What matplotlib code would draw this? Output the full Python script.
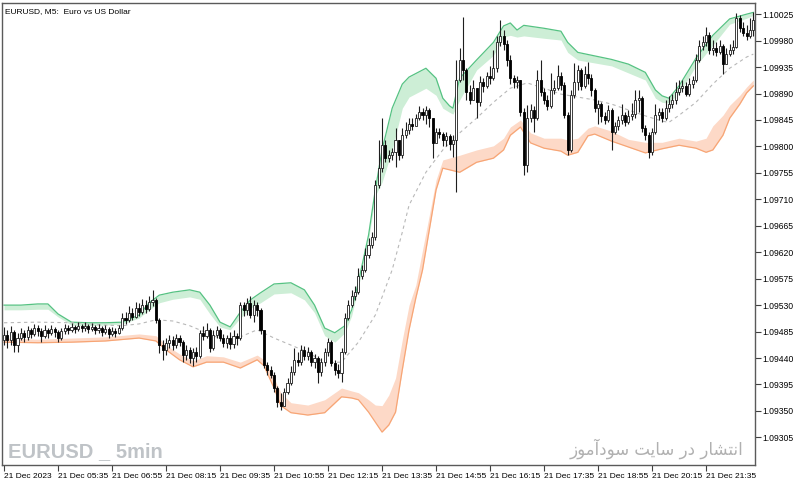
import matplotlib
matplotlib.use("Agg")
import matplotlib.pyplot as plt
import numpy as np

# EURUSD M5, 21 Dec 2023, bougies de 04:15 a 22:45
first_open = 1.09471
closes = [
    1.09479, 1.09471, 1.09484, 1.09462, 1.09474, 1.09483, 1.09476, 1.09488, 1.09481, 1.09491,
    1.09486, 1.09478, 1.09488, 1.09483, 1.09490, 1.09484, 1.09474, 1.09486, 1.09491, 1.09488,
    1.09493, 1.09490, 1.09495, 1.09491, 1.09495, 1.09490, 1.09493, 1.09488, 1.09491, 1.09484,
    1.09490, 1.09481, 1.09486, 1.09483, 1.09491, 1.09508, 1.09505, 1.09517, 1.09510, 1.09525,
    1.09518, 1.09530, 1.09523, 1.09535, 1.09539, 1.09505, 1.09462, 1.09454, 1.09466, 1.09471,
    1.09462, 1.09474, 1.09467, 1.09445, 1.09454, 1.09440, 1.09450, 1.09444, 1.09483, 1.09478,
    1.09488, 1.09457, 1.09479, 1.09488, 1.09474, 1.09466, 1.09474, 1.09464, 1.09478, 1.09474,
    1.09530, 1.09522, 1.09534, 1.09513, 1.09530, 1.09522, 1.09488, 1.09428, 1.09420, 1.09411,
    1.09389, 1.09365, 1.09359, 1.09382, 1.09398, 1.09416, 1.09437, 1.09433, 1.09454, 1.09444,
    1.09450, 1.09433, 1.09440, 1.09416, 1.09433, 1.09450, 1.09467, 1.09432, 1.09420, 1.09415,
    1.09450, 1.09508, 1.09530, 1.09546, 1.09552, 1.09580, 1.09590, 1.09615, 1.09632, 1.09646,
    1.09734, 1.09763, 1.09802, 1.09780, 1.09785, 1.09790, 1.09811, 1.09785, 1.09819, 1.09828,
    1.09838, 1.09835, 1.09848, 1.09858, 1.09853, 1.09862, 1.09848, 1.09806, 1.09824, 1.09821,
    1.09811, 1.09818, 1.09804, 1.09811, 1.09913, 1.09947, 1.09930, 1.09892, 1.09879, 1.09899,
    1.09875, 1.09909, 1.09903, 1.09920, 1.09916, 1.09933, 1.09977, 1.09988, 1.09974, 1.09947,
    1.09916, 1.09909, 1.09913, 1.09858, 1.09768, 1.09848, 1.09862, 1.09848, 1.09913, 1.09892,
    1.09879, 1.09869, 1.09896, 1.09899, 1.09920, 1.09904, 1.09853, 1.09794, 1.09887, 1.09909,
    1.09930, 1.09903, 1.09923, 1.09916, 1.09896, 1.09865, 1.09872, 1.09852, 1.09845, 1.09862,
    1.09824, 1.09835, 1.09845, 1.09853, 1.09841, 1.09852, 1.09855, 1.09879, 1.09882, 1.09831,
    1.09819, 1.09790, 1.09824, 1.09853, 1.09858, 1.09848, 1.09865, 1.09872, 1.09879, 1.09892,
    1.09899, 1.09903, 1.09890, 1.09906, 1.09913, 1.09947, 1.09971, 1.09977, 1.09989, 1.09964,
    1.09967, 1.09960, 1.09971, 1.09940, 1.09957, 1.09964, 1.09969, 1.10018, 1.10001, 1.09993,
    1.09988, 1.09998, 1.10015]
highs = [
    1.09493, 1.09488, 1.09495, 1.09488, 1.09483, 1.09491, 1.09488, 1.09495, 1.09491, 1.09498,
    1.09496, 1.09491, 1.09496, 1.09491, 1.09496, 1.09493, 1.09488, 1.09491, 1.09498, 1.09496,
    1.09500, 1.09496, 1.09501, 1.09498, 1.09501, 1.09498, 1.09500, 1.09496, 1.09498, 1.09495,
    1.09496, 1.09493, 1.09493, 1.09491, 1.09496, 1.09517, 1.09518, 1.09529, 1.09525, 1.09535,
    1.09534, 1.09541, 1.09539, 1.09546, 1.09556, 1.09542, 1.09508, 1.09471, 1.09474, 1.09479,
    1.09478, 1.09481, 1.09479, 1.09471, 1.09462, 1.09459, 1.09457, 1.09459, 1.09488, 1.09495,
    1.09500, 1.09491, 1.09488, 1.09495, 1.09491, 1.09481, 1.09479, 1.09484, 1.09488, 1.09483,
    1.09535, 1.09535, 1.09542, 1.09546, 1.09539, 1.09535, 1.09525, 1.09488, 1.09433, 1.09427,
    1.09416, 1.09393, 1.09380, 1.09389, 1.09406, 1.09427, 1.09457, 1.09450, 1.09462, 1.09461,
    1.09459, 1.09454, 1.09447, 1.09444, 1.09440, 1.09457, 1.09474, 1.09471, 1.09437, 1.09430,
    1.09457, 1.09517, 1.09539, 1.09556, 1.09563, 1.09593, 1.09598, 1.09627, 1.09644, 1.09654,
    1.09743, 1.09811, 1.09848, 1.09811, 1.09794, 1.09797, 1.09831, 1.09811, 1.09831, 1.09841,
    1.09848, 1.09848, 1.09855, 1.09869, 1.09865, 1.09869, 1.09865, 1.09848, 1.09831, 1.09831,
    1.09824, 1.09824, 1.09821, 1.09819, 1.09947, 1.09967, 1.10020, 1.09933, 1.09904, 1.09913,
    1.09899, 1.09920, 1.09916, 1.09926, 1.09937, 1.09964, 1.09988, 1.10015, 1.09998, 1.09981,
    1.09955, 1.09921, 1.09920, 1.09913, 1.09865, 1.09870, 1.09872, 1.09869, 1.09930, 1.09947,
    1.09899, 1.09887, 1.09925, 1.09913, 1.09938, 1.09926, 1.09909, 1.09858, 1.09896, 1.09942,
    1.09938, 1.09933, 1.09937, 1.09943, 1.09923, 1.09899, 1.09879, 1.09875, 1.09858, 1.09870,
    1.09865, 1.09841, 1.09852, 1.09872, 1.09858, 1.09862, 1.09874, 1.09896, 1.09896, 1.09886,
    1.09836, 1.09824, 1.09831, 1.09872, 1.09865, 1.09865, 1.09879, 1.09886, 1.09889, 1.09909,
    1.09913, 1.09913, 1.09909, 1.09916, 1.09920, 1.09957, 1.09981, 1.09988, 1.10003, 1.09994,
    1.09981, 1.09977, 1.09981, 1.09974, 1.09967, 1.09974, 1.09981, 1.10027, 1.10023, 1.10011,
    1.10006, 1.10018, 1.10028]
lows = [
    1.09462, 1.09457, 1.09462, 1.09450, 1.09450, 1.09471, 1.09467, 1.09471, 1.09474, 1.09478,
    1.09478, 1.09467, 1.09474, 1.09474, 1.09479, 1.09476, 1.09467, 1.09471, 1.09481, 1.09481,
    1.09484, 1.09483, 1.09486, 1.09484, 1.09486, 1.09483, 1.09486, 1.09481, 1.09483, 1.09478,
    1.09481, 1.09474, 1.09478, 1.09476, 1.09481, 1.09488, 1.09498, 1.09501, 1.09505, 1.09508,
    1.09512, 1.09515, 1.09517, 1.09520, 1.09529, 1.09500, 1.09449, 1.09437, 1.09445, 1.09457,
    1.09454, 1.09457, 1.09461, 1.09433, 1.09437, 1.09432, 1.09427, 1.09433, 1.09440, 1.09471,
    1.09474, 1.09450, 1.09454, 1.09474, 1.09469, 1.09459, 1.09457, 1.09456, 1.09457, 1.09462,
    1.09471, 1.09512, 1.09513, 1.09508, 1.09501, 1.09512, 1.09481, 1.09423, 1.09411, 1.09406,
    1.09382, 1.09357, 1.09352, 1.09360, 1.09379, 1.09394, 1.09411, 1.09427, 1.09428, 1.09437,
    1.09437, 1.09427, 1.09423, 1.09398, 1.09410, 1.09427, 1.09444, 1.09427, 1.09411, 1.09406,
    1.09399, 1.09447, 1.09505, 1.09527, 1.09539, 1.09549, 1.09574, 1.09586, 1.09610, 1.09627,
    1.09641, 1.09729, 1.09756, 1.09773, 1.09773, 1.09777, 1.09765, 1.09777, 1.09780, 1.09814,
    1.09821, 1.09828, 1.09838, 1.09845, 1.09845, 1.09838, 1.09833, 1.09780, 1.09811, 1.09814,
    1.09801, 1.09801, 1.09794, 1.09782, 1.09722, 1.09909, 1.09913, 1.09879, 1.09872, 1.09882,
    1.09848, 1.09869, 1.09892, 1.09899, 1.09906, 1.09913, 1.09926, 1.09971, 1.09964, 1.09937,
    1.09906, 1.09899, 1.09899, 1.09852, 1.09751, 1.09756, 1.09841, 1.09824, 1.09845, 1.09886,
    1.09872, 1.09862, 1.09865, 1.09889, 1.09896, 1.09896, 1.09848, 1.09785, 1.09790, 1.09882,
    1.09896, 1.09896, 1.09899, 1.09906, 1.09886, 1.09858, 1.09838, 1.09841, 1.09838, 1.09841,
    1.09794, 1.09821, 1.09828, 1.09838, 1.09835, 1.09838, 1.09845, 1.09848, 1.09858, 1.09824,
    1.09811, 1.09780, 1.09785, 1.09821, 1.09845, 1.09841, 1.09845, 1.09858, 1.09865, 1.09872,
    1.09887, 1.09892, 1.09886, 1.09886, 1.09899, 1.09909, 1.09943, 1.09964, 1.09971, 1.09957,
    1.09955, 1.09954, 1.09957, 1.09924, 1.09947, 1.09954, 1.09957, 1.09967, 1.09994, 1.09988,
    1.09981, 1.09984, 1.09988]

# bande haute (verte) : ligne externe et bord interne
up_idx = [0, 5, 10, 13, 16, 20, 25, 30, 35, 40, 43, 46, 50, 55, 58, 61, 64, 67, 70, 73,
          76, 80, 85, 89, 92, 95, 98, 101, 103, 105, 108, 110, 112, 115, 118, 120, 125, 128, 130, 132,
          133, 135, 140, 145, 148, 150, 152, 154, 160, 165, 167, 170, 175, 180, 185, 190, 193, 195, 197, 200,
          205, 210, 215, 220, 222]
up_outer = [1.09530, 1.09530, 1.09532, 1.09532, 1.09515, 1.09501, 1.09500, 1.09500, 1.09501, 1.09513,
            1.09534, 1.09547, 1.09552, 1.09556, 1.09552, 1.09530, 1.09501, 1.09493, 1.09518, 1.09539,
            1.09551, 1.09566, 1.09568, 1.09556, 1.09530, 1.09491, 1.09483, 1.09495, 1.09522, 1.09569,
            1.09649, 1.09726, 1.09794, 1.09865, 1.09906, 1.09918, 1.09933, 1.09916, 1.09882, 1.09869,
            1.09865, 1.09916, 1.09947, 1.09977, 1.10005, 1.10010, 1.09998, 1.10006, 1.10001, 1.09996,
            1.09977, 1.09960, 1.09954, 1.09948, 1.09940, 1.09926, 1.09896, 1.09886, 1.09882, 1.09903,
            1.09950, 1.09989, 1.10017, 1.10025, 1.10028]
up_inner = [1.09522, 1.09522, 1.09523, 1.09523, 1.09510, 1.09496, 1.09495, 1.09496, 1.09498, 1.09508,
            1.09522, 1.09534, 1.09540, 1.09544, 1.09540, 1.09515, 1.09493, 1.09488, 1.09508, 1.09525,
            1.09534, 1.09549, 1.09551, 1.09539, 1.09517, 1.09478, 1.09467, 1.09483, 1.09512, 1.09561,
            1.09641, 1.09716, 1.09739, 1.09794, 1.09865, 1.09884, 1.09899, 1.09887, 1.09865, 1.09858,
            1.09855, 1.09879, 1.09930, 1.09955, 1.09986, 1.09989, 1.09986, 1.09988, 1.09984, 1.09981,
            1.09960, 1.09947, 1.09942, 1.09937, 1.09925, 1.09913, 1.09882, 1.09875, 1.09874, 1.09891,
            1.09937, 1.09972, 1.10008, 1.10018, 1.10023]

# bande basse (orange)
lo_idx = [0, 10, 20, 30, 40, 45, 48, 52, 56, 60, 65, 70, 75, 77, 80, 82, 85, 90, 95, 100,
          103, 105, 108, 110, 112, 114, 116, 118, 120, 122, 124, 126, 128, 130, 135, 140, 145, 148, 150, 153,
          156, 160, 165, 167, 170, 173, 175, 180, 185, 190, 195, 200, 205, 208, 210, 213, 215, 218, 220, 222]
lo_inner = [1.09474, 1.09472, 1.09474, 1.09476, 1.09481, 1.09478, 1.09462, 1.09447, 1.09435, 1.09444,
            1.09442, 1.09433, 1.09445, 1.09437, 1.09406, 1.09381, 1.09364, 1.09360, 1.09369, 1.09389,
            1.09384, 1.09381, 1.09369, 1.09360, 1.09359, 1.09377, 1.09406, 1.09471, 1.09530, 1.09564,
            1.09624, 1.09683, 1.09743, 1.09777, 1.09785, 1.09794, 1.09801, 1.09814, 1.09833, 1.09845,
            1.09823, 1.09814, 1.09814, 1.09811, 1.09814, 1.09831, 1.09835, 1.09826, 1.09812, 1.09807,
            1.09807, 1.09814, 1.09809, 1.09814, 1.09835, 1.09853, 1.09870, 1.09887, 1.09901, 1.09913]
lo_outer = [1.09467, 1.09466, 1.09467, 1.09469, 1.09474, 1.09469, 1.09454, 1.09437, 1.09425, 1.09433,
            1.09433, 1.09423, 1.09437, 1.09427, 1.09389, 1.09359, 1.09347, 1.09343, 1.09347, 1.09374,
            1.09372, 1.09369, 1.09348, 1.09331, 1.09314, 1.09326, 1.09348, 1.09420, 1.09488, 1.09542,
            1.09590, 1.09658, 1.09726, 1.09763, 1.09756, 1.09773, 1.09780, 1.09794, 1.09819, 1.09833,
            1.09806, 1.09797, 1.09792, 1.09785, 1.09790, 1.09818, 1.09821, 1.09809, 1.09799, 1.09789,
            1.09796, 1.09802, 1.09797, 1.09790, 1.09794, 1.09819, 1.09848, 1.09872, 1.09891, 1.09903]

# ligne mediane pointillee
mid_idx = [0, 10, 20, 30, 35, 40, 45, 50, 55, 60, 65, 70, 75, 80, 85, 90, 95, 100, 105, 110,
           113, 115, 118, 120, 125, 130, 135, 140, 145, 150, 155, 160, 165, 170, 175, 180, 185, 190, 195, 197,
           200, 205, 210, 215, 220, 222]
mid_line = [1.09500, 1.09501, 1.09500, 1.09496, 1.09495, 1.09498, 1.09505, 1.09503, 1.09495, 1.09483,
            1.09471, 1.09476, 1.09488, 1.09474, 1.09462, 1.09450, 1.09432, 1.09433, 1.09467, 1.09513,
            1.09559, 1.09590, 1.09654, 1.09700, 1.09756, 1.09794, 1.09823, 1.09848, 1.09875, 1.09899,
            1.09908, 1.09899, 1.09889, 1.09884, 1.09879, 1.09872, 1.09862, 1.09852, 1.09843, 1.09841,
            1.09853, 1.09875, 1.09906, 1.09933, 1.09952, 1.09957]

xtick_idx = [0, 16, 32, 48, 64, 80, 96, 112, 128, 144, 160, 176, 192, 208]
xtick_labels = ["21 Dec 2023", "21 Dec 05:35", "21 Dec 06:55", "21 Dec 08:15", "21 Dec 09:35",
                "21 Dec 10:55", "21 Dec 12:15", "21 Dec 13:35", "21 Dec 14:55", "21 Dec 16:15",
                "21 Dec 17:35", "21 Dec 18:55", "21 Dec 20:15", "21 Dec 21:35"]
yticks = [1.09305, 1.09350, 1.09395, 1.09440, 1.09485, 1.09530, 1.09575, 1.09620, 1.09665,
          1.09710, 1.09755, 1.09800, 1.09845, 1.09890, 1.09935, 1.09980, 1.10025]

fig = plt.figure(figsize=(8, 4.83), dpi=100)
ax = fig.add_axes([2 / 800, 18 / 483, 753 / 800, 462 / 483])

# bandes
ax.fill_between(up_idx, up_inner, up_outer, color='#cdeed6', lw=0, zorder=1)
ax.plot(up_idx, up_outer, color='#55c282', lw=0.9, zorder=2)
ax.fill_between(lo_idx, lo_outer, lo_inner, color='#fdd9c7', lw=0, zorder=1)
ax.plot(lo_idx, lo_outer, color='#f7a575', lw=0.9, zorder=2)
ax.plot(mid_idx, mid_line, color='#b8b8b8', lw=0.8, ls=(0, (3, 3)), zorder=2)

# bougies
c = np.array(closes)
o = np.array([first_open] + closes[:-1])
xs = np.arange(len(c))
hauss = c >= o
body = c - o
body[np.abs(body) < 0.000012] = 0.000012
ax.vlines(xs, lows, highs, color='#1e1e1e', lw=0.8, zorder=3)
ax.bar(xs[hauss], body[hauss], bottom=o[hauss], width=0.62, color='white',
       edgecolor='#1e1e1e', lw=0.6, zorder=4)
ax.bar(xs[~hauss], body[~hauss], bottom=o[~hauss], width=0.62, color='black',
       edgecolor='black', lw=0.6, zorder=4)

ax.set_xlim(-0.6, 222.5)
ax.set_ylim(1.09258, 1.10044)

ax.set_xticks(xtick_idx)
ax.set_xticklabels(xtick_labels, fontsize=6, family='Liberation Sans', ha='left')
ax.yaxis.tick_right()
ax.set_yticks(yticks)
ax.set_yticklabels(["%.5f" % v for v in yticks], fontsize=6.2, family='Liberation Sans')
ax.tick_params(axis='both', direction='out', length=4, width=0.8, color='#404040', pad=1)
ax.tick_params(axis='x', pad=2)
for s in ax.spines.values():
    s.set_color('#5a5a5a')
    s.set_linewidth(1.0)

fig.text(5 / 800, 1 - 13 / 483, "EURUSD, M5:  Euro vs US Dollar", fontsize=6,
         family='Liberation Sans', color='black', va='baseline')
fig.text(8 / 800, 1 - 457 / 483, "EURUSD _ 5min", fontsize=14.5, fontweight='bold',
         family='Liberation Sans', color='#bfc3c7', va='baseline')
# "انتشار در سایت سودآموز" en formes de presentation, ordre visuel
persian = "\ufeaf\ufeee\ufee3\ufe81\ufea9\ufeee\ufeb3 \ufe96\ufef3\ufe8e\ufeb3 \ufead\ufea9 \ufead\ufe8e\ufeb8\ufe98\ufee7\ufe8d"
fig.text(743 / 800, 1 - 455 / 483, persian, fontsize=12, family=['DejaVu Sans'],
         color='#b0b0b0', ha='right', va='baseline')

fig.savefig("out.png", dpi=100)
